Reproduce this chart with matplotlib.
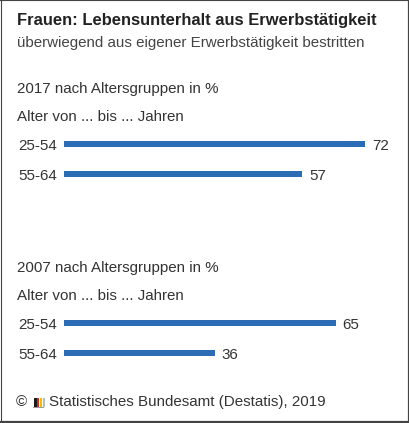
import matplotlib
matplotlib.use("Agg")
import matplotlib.pyplot as plt
from matplotlib.patches import Rectangle
from matplotlib.lines import Line2D

plt.rcParams['font.family'] = ['Liberation Sans', 'DejaVu Sans']

title = "Frauen: Lebensunterhalt aus Erwerbstätigkeit"
subtitle = "überwiegend aus eigener Erwerbstätigkeit bestritten"
age_groups = ["25-54", "55-64"]
values_2017 = [72, 57]
values_2007 = [65, 36]
section_titles = ["2017 nach Altersgruppen in %", "2007 nach Altersgruppen in %"]
axis_note = "Alter von ... bis ... Jahren"
source = "Statistisches Bundesamt (Destatis), 2019"

W, H = 410, 423
BAR_COLOR = "#2b6cb4"
TXT = "#333333"
FS = 10.9

fig = plt.figure(figsize=(W / 100, H / 100), dpi=100)
fig.patch.set_facecolor("white")

def fy(py):
    return 1 - py / H

def fx(px):
    return px / W

# Header texts
fig.text(fx(17), fy(20), title, fontsize=11.9, fontweight='bold', color="#222222", va='center', ha='left')
fig.text(fx(17), fy(43), subtitle, fontsize=FS, color="#444444", va='center', ha='left')

PX_PER_UNIT = (365 - 64) / 72.0
XMAX = 80

def section(top_px, vals, stitle, title_py, note_py):
    fig.text(fx(17), fy(title_py), stitle, fontsize=FS, color=TXT, va='center', ha='left')
    fig.text(fx(17), fy(note_py), axis_note, fontsize=FS, color=TXT, va='center', ha='left')
    h = 60
    ax = fig.add_axes([fx(64), fy(top_px + h), XMAX * PX_PER_UNIT / W, h / H])
    pos = list(range(len(vals)))
    ax.barh(pos, vals, height=0.22, color=BAR_COLOR, edgecolor="none")
    ax.set_xlim(0, XMAX)
    ax.set_ylim(len(vals) - 0.5, -0.5)
    ax.set_yticks(pos)
    ax.set_yticklabels(age_groups, fontsize=FS, color=TXT, va='center_baseline')
    ax.tick_params(axis='y', length=0, pad=5)
    ax.set_xticks([])
    for s in ax.spines.values():
        s.set_visible(False)
    ax.patch.set_alpha(0)
    for p, v in zip(pos, vals):
        ax.annotate(str(v), (v, p), xytext=(7, 0), textcoords='offset pixels',
                    va='center_baseline', ha='left', fontsize=FS, color=TXT)
    return ax

section(129, values_2017, section_titles[0], 89, 117)
section(308, values_2007, section_titles[1], 268, 296)

# Footer
fig.text(fx(16), fy(402), "©", fontsize=FS, color=TXT, va='center', ha='left')
logo_cols = ["#1a1a1a", "#d42a20", "#f2c200"]
for i, c in enumerate(logo_cols):
    fig.patches.append(Rectangle((fx(34 + i * 3), fy(407)), 2.5 / W, 9 / H,
                                 transform=fig.transFigure, facecolor=c, edgecolor='none'))
fig.patches.append(Rectangle((fx(33), fy(408)), 11 / W, 1.5 / H,
                             transform=fig.transFigure, facecolor="#999999", edgecolor='none'))
fig.patches.append(Rectangle((fx(43), fy(407)), 2 / W, 9 / H,
                             transform=fig.transFigure, facecolor="#bbbbbb", edgecolor='none'))
fig.text(fx(49), fy(402), source, fontsize=FS, color=TXT, va='center', ha='left')

# Border
bc = "#444444"
fig.add_artist(Line2D([0, 1], [fy(0.5), fy(0.5)], transform=fig.transFigure, color=bc, lw=0.8))
fig.add_artist(Line2D([fx(0.5), fx(0.5)], [0, 1], transform=fig.transFigure, color=bc, lw=0.8))
fig.add_artist(Line2D([fx(409), fx(409)], [0, 1], transform=fig.transFigure, color=bc, lw=1.6))
fig.add_artist(Line2D([0, 1], [fy(422), fy(422)], transform=fig.transFigure, color=bc, lw=1.6))

fig.savefig("out.png", dpi=100, facecolor="white")
